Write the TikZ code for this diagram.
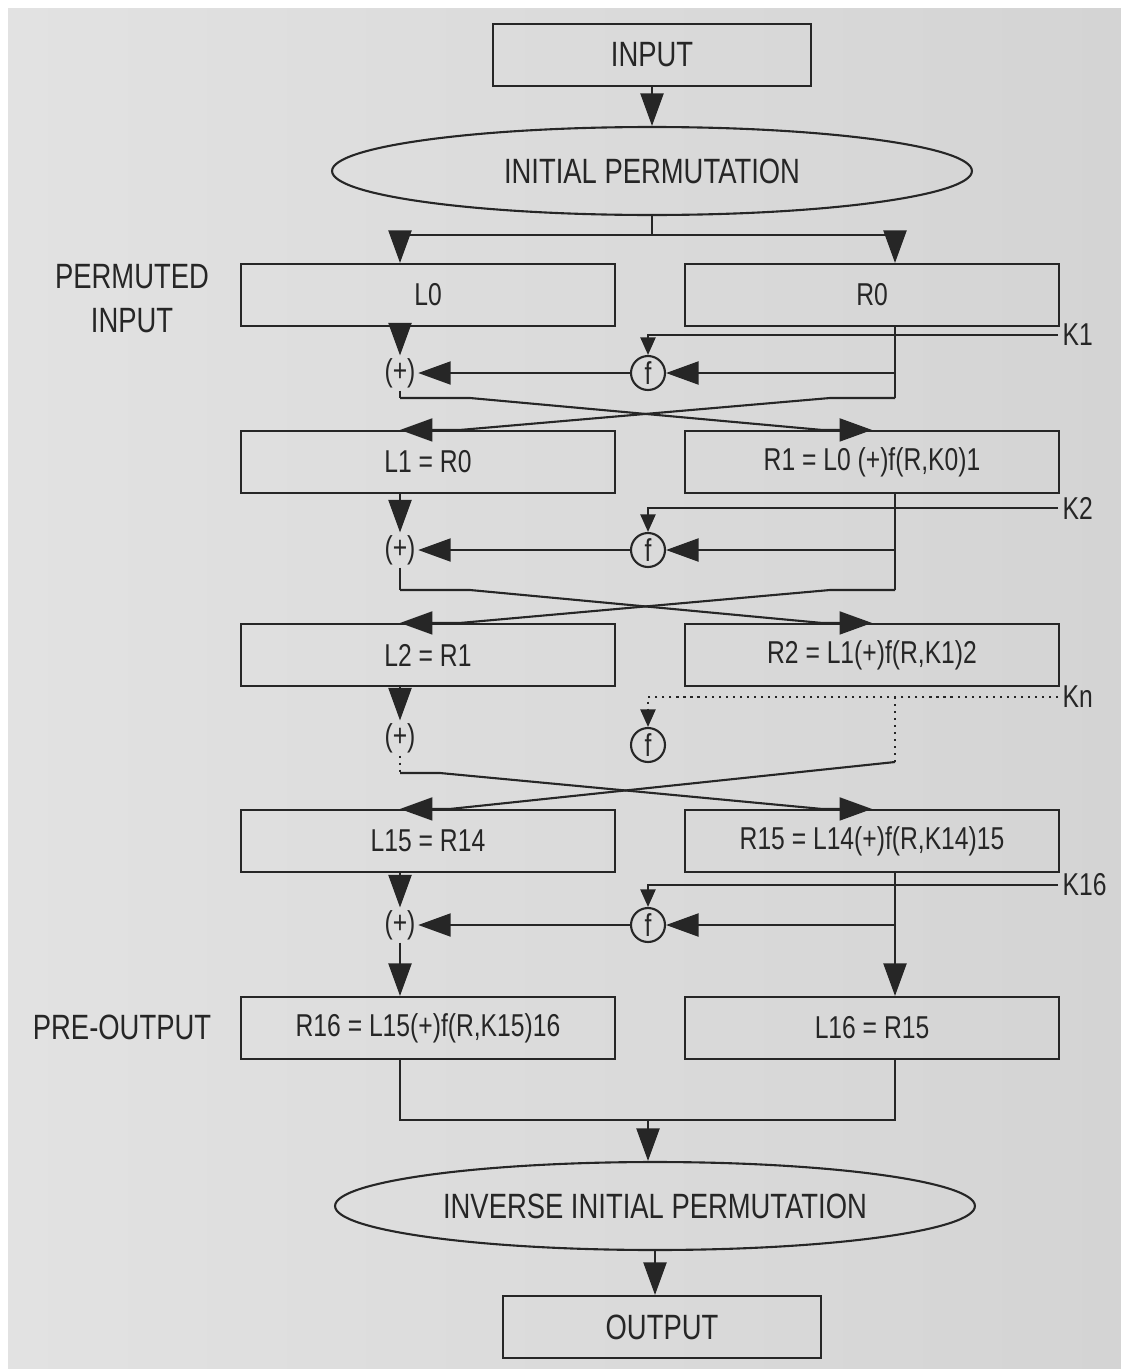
\documentclass[tikz,border=0pt]{standalone}
\usepackage{fontspec}
\setmainfont{Liberation Sans}[FakeStretch=0.78]
\usetikzlibrary{arrows.meta,positioning,shapes.geometric,calc}
\definecolor{scanbg}{RGB}{226,226,226}
\definecolor{scandark}{RGB}{212,212,212}
\definecolor{ink}{RGB}{38,38,38}

\begin{document}
\begin{tikzpicture}[
    x=0.02cm, y=-0.02cm,
    font=\fontsize{20}{25}\selectfont,
    >={Triangle[length=6.5mm,width=4.6mm]},
    line width=1.2pt,
    color=ink,
    node distance=13.6mm,
    blk/.style={draw, rectangle, minimum width=74.8mm, minimum height=12.4mm, inner sep=2pt, font=\fontsize{18}{22}\selectfont},
    io/.style={draw, rectangle, minimum width=63.6mm, minimum height=12.4mm},
    perm/.style={draw, ellipse, minimum width=128mm, minimum height=17.6mm, inner sep=0pt},
    fbox/.style={draw, circle, minimum size=6.8mm, inner sep=0pt, font=\fontsize{18}{22}\selectfont},
    xor/.style={inner sep=1pt, font=\fontsize{18}{22}\selectfont},
    keytxt/.style={anchor=west, inner sep=2pt, font=\fontsize{18}{22}\selectfont},
    sidelbl/.style={align=center},
    kin/.style={-{Triangle[length=3.5mm,width=3mm]}},
    dots/.style={dash pattern=on 1.2pt off 2.8pt}
]
\useasboundingbox (0,0) rectangle (1121,1369);
\fill[white] (0,0) rectangle (1121,1369);
\shade[left color=scanbg, right color=scandark] (8,8) rectangle (1121,1369);

% top
\node[io] (input) at (652,55) {INPUT};
\node[perm] (ip) at (652,171) {INITIAL PERMUTATION};
\draw[->] (input) -- (ip);

% boxes
\node[blk] (L0) at (428,295) {L0};
\node[blk, right=of L0] (R0) {R0};
\node[blk] (L1) at (428,462) {L1 = R0};
\node[blk, right=of L1] (R1) {R1 = L0 (+)f(R,K0)1};
\node[blk] (L2) at (428,655) {L2 = R1};
\node[blk, right=of L2] (R2) {R2 = L1(+)f(R,K1)2};
\node[blk] (L15) at (428,841) {L15 = R14};
\node[blk, right=of L15] (R15) {R15 = L14(+)f(R,K14)15};
\node[blk] (R16) at (428,1028) {R16 = L15(+)f(R,K15)16};
\node[blk, right=of R16] (L16) {L16 = R15};

\node[sidelbl] (permin) at (132,299) {PERMUTED\\INPUT};
\node[sidelbl] (preout) at (122,1027) {PRE-OUTPUT};

\coordinate (rcol) at (895,0);

% split
\node[xor] (p1) at (400,373) {(+)};
\coordinate (split) at (652,235);
\draw (ip.south) -- (split);
\draw[->] (split) -| (L0.north -| p1);
\draw[->] (split) -| (R0.north -| rcol);

% round 1
\node[keytxt] (k1) at (1058,335) {K1};
\node[fbox] (f1) at (648,373) {f};
\coordinate (c1l) at (400,398);
\coordinate (c1r) at (895,398);
\draw[kin] (k1.west) -| (f1.north);
\draw (R0.south -| rcol) -- (c1r);
\draw[->] (f1 -| rcol) -- (f1);
\draw[->] (f1) -- (p1);
\draw[->] (L0.south -| p1) -- (p1);
\draw (p1) -- (c1l);
\draw[->] (c1l) -- ++(70,0) -- ($(R1.north)+(-50,0)$) -- (R1.north);
\draw[->] (c1r) -- ++(-65,0) -- ($(L1.north -| p1)+(60,0)$) -- (L1.north -| p1);

% round 2
\node[keytxt] (k2) at (1058,508) {K2};
\node[fbox] (f2) at (648,550) {f};
\node[xor] (p2) at (400,550) {(+)};
\coordinate (c2l) at (400,590);
\coordinate (c2r) at (895,590);
\draw[kin] (k2.west) -| (f2.north);
\draw (R1.south -| rcol) -- (c2r);
\draw[->] (f2 -| rcol) -- (f2);
\draw[->] (f2) -- (p2);
\draw[->] (L1.south -| p2) -- (p2);
\draw (p2) -- (c2l);
\draw[->] (c2l) -- ++(70,0) -- ($(R2.north)+(-50,0)$) -- (R2.north);
\draw[->] (c2r) -- ++(-65,0) -- ($(L2.north -| p2)+(60,0)$) -- (L2.north -| p2);

% rounds 3 .. 15
\node[keytxt] (kn) at (1058,697) {Kn};
\node[fbox] (f3) at (648,745) {f};
\node[xor] (p3) at (400,738) {(+)};
\coordinate (c3l) at (400,773);
\coordinate (c3r) at (895,762);
\draw[dots, kin] (kn.west) -| (f3.north);
\draw[dots] (kn.west -| rcol) -- (c3r);
\draw[->] (L2.south -| p3) -- (p3);
\draw[dots] (p3) -- (c3l);
\draw[->] (c3l) -- ++(40,0) -- ($(R15.north)+(-50,0)$) -- (R15.north);
\draw[->] (c3r) -- ($(L15.north -| p3)+(50,0)$) -- (L15.north -| p3);

% round 16
\node[keytxt] (k16) at (1058,885) {K16};
\node[fbox] (f4) at (648,925) {f};
\node[xor] (p4) at (400,925) {(+)};
\draw[kin] (k16.west) -| (f4.north);
\draw[->] (R15.south -| rcol) -- (L16.north -| rcol);
\draw[->] (f4 -| rcol) -- (f4);
\draw[->] (f4) -- (p4);
\draw[->] (L15.south -| p4) -- (p4);
\draw[->] (p4) -- (R16.north -| p4);

% bottom
\node[perm] (iip) at (655,1206) {INVERSE INITIAL PERMUTATION};
\node[io] (out) at (662,1327) {OUTPUT};
\coordinate (join) at (648,1120);
\draw (R16.south -| p4) |- (join) -| (L16.south -| rcol);
\draw[->] (join) -- (join |- iip.north);
\draw[->] (iip.south) -- (iip.south |- out.north);
\end{tikzpicture}
\end{document}
